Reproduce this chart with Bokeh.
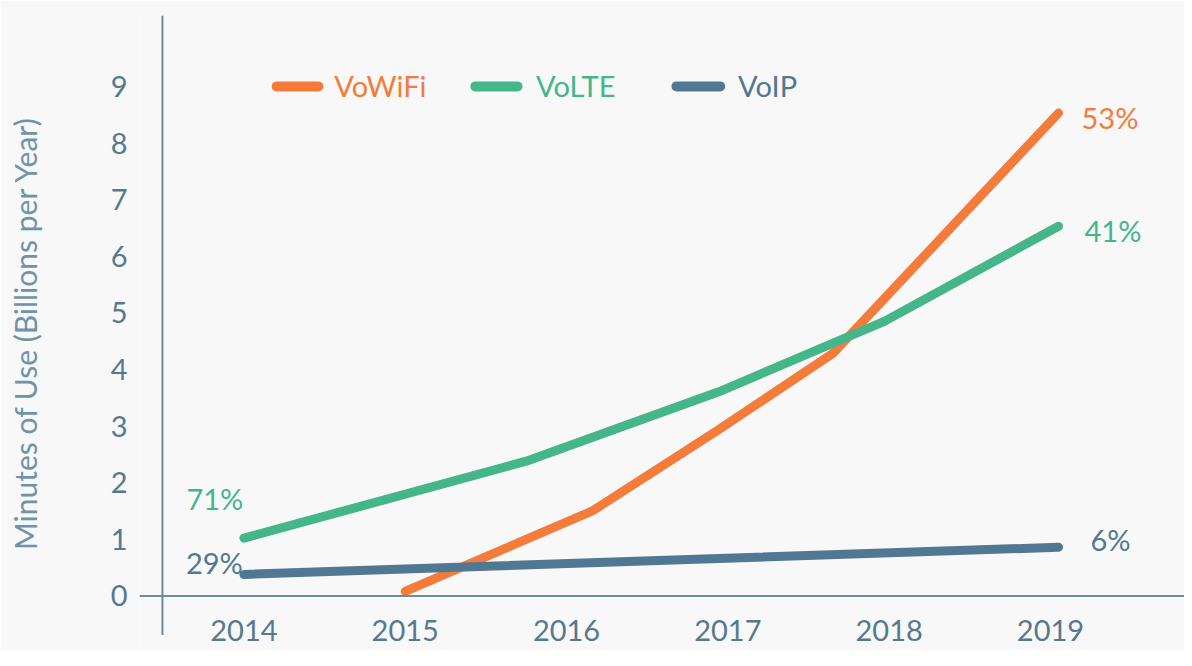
from bokeh.plotting import figure
from bokeh.models import Range1d, FixedTicker, Span
from bokeh.core.properties import value
from bokeh.embed import file_html
from bokeh.resources import INLINE

# ---------------- data ----------------
tick_years = [2014, 2015, 2016, 2017, 2018, 2019]
tick_labels = ["2014", "2015", "2016", "2017", "2018", "2019"]
y_ticks = [0, 1, 2, 3, 4, 5, 6, 7, 8, 9]

series_names = ["VoWiFi", "VoLTE", "VoIP"]

vowifi_x = [2015.0, 2016.16, 2016.94, 2017.65, 2019.05]
vowifi_y = [0.08, 1.50, 2.93, 4.28, 8.53]

volte_x = [2014.0, 2015.75, 2016.94, 2017.97, 2019.05]
volte_y = [1.02, 2.38, 3.60, 4.85, 6.53]

voip_x = [2014.0, 2019.05]
voip_y = [0.38, 0.86]

start_labels = {"VoLTE": "71%", "VoIP": "29%"}
end_labels = {"VoWiFi": "53%", "VoLTE": "41%", "VoIP": "6%"}

y_title = "Minutes of Use (Billions per Year)"

# ---------------- styles ----------------
FONT = "Lato"
BG = "#f8f8f8"
AXIS = "#6a8ca3"
TICK_TXT = "#56798f"
TITLE_TXT = "#6f93aa"
COLORS = {"VoWiFi": "#f47b3a", "VoLTE": "#44b68a", "VoIP": "#517893"}
DATA = {"VoWiFi": (vowifi_x, vowifi_y), "VoLTE": (volte_x, volte_y), "VoIP": (voip_x, voip_y)}

W, H = 1184, 650
FRAME_L, FRAME_T = 139, 15
PX_PER_YEAR = 161.31          # horizontal scale
PX_PER_UNIT = 56.61           # vertical scale
X_ORIGIN_PX = 243.4           # pixel of 2014
Y_ZERO_PX = 595.4             # pixel of y = 0

X0 = 2014 - (X_ORIGIN_PX - FRAME_L) / PX_PER_YEAR
X1 = 2014 + (W - X_ORIGIN_PX) / PX_PER_YEAR
Y0 = -(H - Y_ZERO_PX) / PX_PER_UNIT
Y1 = (Y_ZERO_PX - FRAME_T) / PX_PER_UNIT


def xd(ref_px):
    """horizontal position (reference pixel) -> data"""
    return 2014 + (ref_px - 245) / 162.4


p = figure(width=W, height=H,
           x_range=Range1d(X0, X1), y_range=Range1d(Y0, Y1),
           output_backend="svg", toolbar_location=None,
           x_axis_location=None,
           min_border_left=FRAME_L, min_border_right=0,
           min_border_top=FRAME_T, min_border_bottom=0)
p.background_fill_color = BG
p.border_fill_color = BG
p.outline_line_color = None
p.grid.grid_line_color = None

ax = p.yaxis[0]
ax.ticker = FixedTicker(ticks=y_ticks)
ax.axis_line_color = None
ax.major_tick_line_color = None
ax.minor_tick_line_color = None
ax.major_tick_out = 0
ax.major_label_standoff = 12
ax.major_label_text_font = FONT
ax.major_label_text_font_size = "29px"
ax.major_label_text_color = TICK_TXT
ax.axis_label = y_title
ax.axis_label_text_font = FONT
ax.axis_label_text_font_size = "30px"
ax.axis_label_text_font_style = "normal"
ax.axis_label_text_color = TITLE_TXT
ax.axis_label_standoff = 65

# axis lines
p.add_layout(Span(location=0, dimension="width", line_color=AXIS, line_width=2))
axis_x = xd(163)
p.segment(x0=[axis_x], y0=[-39 / PX_PER_UNIT], x1=[axis_x], y1=[Y1],
          line_color=AXIS, line_width=2)

# x tick labels (kept fully inside the canvas)
p.text(x=tick_years, y=[-35 / PX_PER_UNIT] * len(tick_years), text=tick_labels,
       text_align="center", text_baseline="middle",
       text_font=value(FONT), text_font_size="29px", text_color=TICK_TXT)

# series lines
for name in series_names:
    xs, ys = DATA[name]
    p.line(xs, ys, line_color=COLORS[name], line_width=9,
           line_cap="round", line_join="round")

# growth labels
end_off = {"VoWiFi": (23, 4.5), "VoLTE": (26, 4.5), "VoIP": (32, -8)}
for name, txt in end_labels.items():
    xs, ys = DATA[name]
    ox, oy = end_off[name]
    p.text(x=[xs[-1]], y=[ys[-1]], text=[txt], x_offset=ox, y_offset=oy,
           text_align="left", text_baseline="middle",
           text_font=value(FONT), text_font_size="29px", text_color=COLORS[name])

start_off = {"VoLTE": (-29, -40), "VoIP": (-29.5, -12)}
for name, txt in start_labels.items():
    xs, ys = DATA[name]
    ox, oy = start_off[name]
    p.text(x=[xs[0]], y=[ys[0]], text=[txt], x_offset=ox, y_offset=oy,
           text_align="center", text_baseline="middle",
           text_font=value(FONT), text_font_size="29px", text_color=COLORS[name])

# custom legend (coloured labels)
leg_y = 9.0
leg_items = [(278, 320, 336), (478, 520.5, 539), (680.5, 724.5, 742.5)]
for name, (l0, l1, t0) in zip(series_names, leg_items):
    p.segment(x0=[xd(l0)], y0=[leg_y], x1=[xd(l1)], y1=[leg_y],
              line_color=COLORS[name], line_width=10, line_cap="round")
    p.text(x=[xd(t0)], y=[leg_y], text=[name], y_offset=-1,
           text_align="left", text_baseline="middle",
           text_font=value(FONT), text_font_size="29px", text_color=COLORS[name])

open("out.html", "w").write(file_html(p, INLINE))
